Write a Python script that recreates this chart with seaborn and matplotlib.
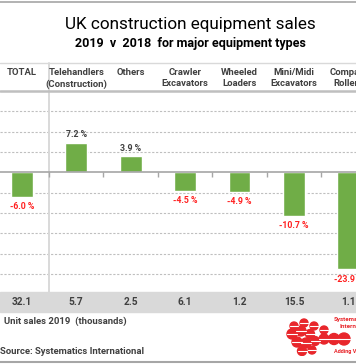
import numpy as np
import pandas as pd
import matplotlib.pyplot as plt
import matplotlib.transforms as mtrans
from matplotlib.patches import Circle, Rectangle
import seaborn as sns

# --- data ---
categories = ['TOTAL', 'Telehandlers', 'Others', 'Crawler', 'Wheeled', 'Mini/Midi', 'Compact']
header_labels = ['TOTAL', 'Telehandlers\n(Construction)', 'Others', 'Crawler\nExcavators',
                 'Wheeled\nLoaders', 'Mini/Midi\nExcavators', 'Compact\nRollers']
change_pct = [-6.0, 7.2, 3.9, -4.5, -4.9, -10.7, -23.9]
units_2019 = [32.1, 5.7, 2.5, 6.1, 1.2, 15.5, 1.1]

W, H = 356, 364
GREEN = '#70AD47'
GRID = '#BFBFBF'
FONT = ['Roboto', 'DejaVu Sans']


def fy(p):
    # pixel row -> figure fraction
    return 1 - p / H


def main():
    sns.set_style('white')
    plt.rcParams['font.family'] = FONT

    df = pd.DataFrame({'cat': categories, 'pct': change_pct})

    fig = plt.figure(figsize=(W / 100, H / 100), dpi=100)
    ax = fig.add_axes([0, fy(284), 1, (284 - 91) / H])

    sns.barplot(data=df, x='cat', y='pct', order=categories, color=GREEN,
                width=0.4, saturation=1, ax=ax, zorder=3)

    ax.set_xlim(-0.40, 6.14)
    ax.set_ylim(-27.5, 20)
    ax.set_xlabel('')
    ax.set_ylabel('')
    ax.set_xticks([])
    ax.set_yticks([])
    for s in ax.spines.values():
        s.set_visible(False)

    # dashed grid every 5 %
    for g in np.arange(-25, 20, 5):
        if g == 0:
            continue
        ax.axhline(g, color=GRID, lw=0.8, ls=(0, (2, 1.5)), zorder=1)
    ax.axhline(0, color='#A6A6A6', lw=1.2, zorder=4)
    # category boundary ticks on the zero line
    bounds = np.arange(len(categories)) + 0.5
    ax.vlines(bounds, -1.1, 0, color='#A6A6A6', lw=1, zorder=4)

    # value labels
    for i, v in enumerate(change_pct):
        col = '#404040' if v > 0 else '#FF2020'
        off = 6 if v > 0 else -7
        ax.annotate(f'{v:.1f} %', (i, v), xytext=(0, off), textcoords='offset points',
                    ha='center', va='center', fontsize=6.3, fontweight='bold', color=col)

    tr = mtrans.blended_transform_factory(ax.transData, fig.transFigure)

    # header row
    fig.add_artist(plt.Line2D([0, 1], [fy(63), fy(63)], color='#D9D9D9', lw=1))
    fig.add_artist(plt.Line2D([0, 1], [fy(91), fy(91)], color=GRID, lw=1.8))
    for i, lab in enumerate(header_labels):
        ax.text(i, fy(68), lab, transform=tr, ha='center', va='top', fontsize=6.8,
                fontweight='bold', color='#404040', linespacing=1.3)

    # separator after TOTAL
    ax.plot([0.5, 0.5], [fy(63), fy(292)], transform=tr, color='#D9D9D9', lw=1.4,
            clip_on=False, zorder=2)

    # unit sales band
    fig.add_artist(Rectangle((0, fy(312)), 1, (312 - 292) / H, transform=fig.transFigure,
                             color='#D9D9D9', zorder=0))
    for i, u in enumerate(units_2019):
        ax.text(i, fy(302), f'{u:.1f}', transform=tr, ha='center', va='center',
                fontsize=7.3, fontweight='bold', color='#404040')

    # titles and notes
    fig.text(0.535, fy(25), 'UK construction equipment sales', ha='center', va='center',
             fontsize=12.3, color='black')
    fig.text(0.535, fy(44), '2019  v  2018  for major equipment types', ha='center',
             va='center', fontsize=9, fontweight='bold', color='black')
    fig.text(4 / W, fy(321), 'Unit sales 2019  (thousands)', ha='left', va='center',
             fontsize=6.8, fontweight='bold', color='#404040')
    fig.text(0, fy(351), 'Source: Systematics International', ha='left', va='center',
             fontsize=6.8, fontweight='bold', color='#404040')

    # borders
    fig.add_artist(plt.Line2D([0, 1], [fy(2), fy(2)], color='#A6A6A6', lw=1.2))
    fig.add_artist(plt.Line2D([0, 1], [fy(362), fy(362)], color='#A6A6A6', lw=1.5))

    # logo (rough)
    lax = fig.add_axes([284 / W, fy(356), 72 / W, 40 / H])
    lax.set_xlim(0, 72)
    lax.set_ylim(0, 40)
    lax.set_aspect('equal')
    lax.axis('off')
    dots = [(8, 22, 5), (17, 25, 5), (26, 22, 4.5), (13, 14, 5), (22, 13, 5),
            (31, 15, 4.5), (40, 17, 5), (50, 17, 5.5), (60, 17, 6), (18, 5, 4.5),
            (28, 6, 4), (10, 30, 4), (20, 33, 4), (30, 30, 4), (40, 26, 4)]
    for cx, cy, r in dots:
        lax.add_patch(Circle((cx, cy), r, color='#E8262B'))
        lax.plot([cx - r, cx + r], [cy, cy], color='white', lw=0.8)
    lax.text(50, 36, 'Systematics', fontsize=4.5, fontweight='bold', color='#E8262B',
             ha='left', va='center')
    lax.text(56, 30, 'International', fontsize=4.5, fontweight='bold', color='#E8262B',
             ha='left', va='center')
    lax.text(50, 4, 'Adding Value', fontsize=4, fontweight='bold', color='#E8262B',
             ha='left', va='center')

    fig.savefig('out.png', dpi=100)


if __name__ == '__main__':
    main()
